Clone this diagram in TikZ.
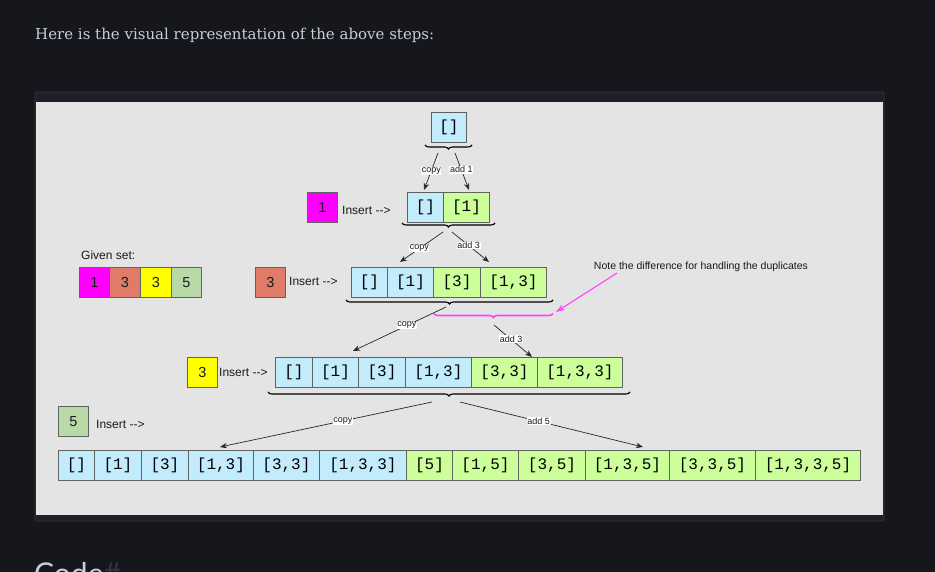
\documentclass[tikz,border=0pt]{standalone}
\usepackage{fontspec}
\setmainfont{Liberation Sans}
\newfontfamily\monofam{Liberation Mono}
\newfontfamily\serifam{DejaVu Serif}
\newfontfamily\headfam{Lato}
\usetikzlibrary{arrows.meta,decorations.pathreplacing}
\definecolor{pagebg}{HTML}{16161D}
\definecolor{framebg}{HTML}{1F1F27}
\definecolor{frameline}{HTML}{34343C}
\definecolor{panelbg}{HTML}{E4E4E4}
\definecolor{headtxt}{HTML}{C9CDD4}
\definecolor{cellblue}{HTML}{C2ECFC}
\definecolor{cellgreen}{HTML}{CCFF99}
\definecolor{boxline}{HTML}{5F6360}
\definecolor{mag}{HTML}{FF00FF}
\definecolor{magline}{HTML}{FF44FF}
\definecolor{salmon}{HTML}{E07B6A}
\definecolor{yel}{HTML}{FFFF00}
\definecolor{sage}{HTML}{B9DAA8}
\definecolor{inktxt}{HTML}{1A1A1A}
\newcommand{\instext}{Insert {-}{-}>}
\tikzset{
  cell/.style={draw=boxline, line width=0.9pt, minimum height=30, inner sep=0, anchor=west,
    text=black, font=\monofam\fontsize{16}{18}\selectfont},
  bcell/.style={cell, fill=cellblue},
  gcell/.style={cell, fill=cellgreen},
  numbox/.style={draw=boxline, line width=0.9pt, minimum width=30, minimum height=30, inner sep=0,
    anchor=north west, text=inktxt, font=\fontsize{14.5}{16}\selectfont},
  instxt/.style={anchor=west, inner sep=0, text=inktxt, font=\fontsize{12}{14}\selectfont},
  lbl/.style={fill=white, inner sep=0.6pt, text=inktxt, font=\fontsize{9}{10}\selectfont},
  arr/.style={-{Stealth[length=7pt,width=5.5pt]}, line width=0.7pt, draw=black!85},
  brc/.style={decorate, decoration={brace, amplitude=4pt}, line width=1.1pt},
}
\begin{document}
\begin{tikzpicture}[x=1pt,y=-1pt]
\useasboundingbox (0,0) rectangle (935,572);
\clip (0,0) rectangle (935,572);
\fill[pagebg] (0,0) rectangle (935,572);
\node[anchor=base west, inner sep=0, text=headtxt, font=\serifam\fontsize{15}{18}\selectfont] (head) at (35,40) {Here is the visual representation of the above steps:};
\filldraw[fill=framebg, draw=frameline, line width=0.8pt, rounded corners=1.5pt] (35,92) rectangle (884,521);
\fill[panelbg] (36,102) rectangle (883,515);
\node[anchor=base west, inner sep=0, font=\headfam\fontsize{30}{34}\selectfont] (codeh) at (34,584) {\textcolor{headtxt}{Code}\textcolor{frameline}{\#}};

% row 0
\node[bcell, minimum width=35] (r0a) at (431,127) {[]};
\coordinate (b0R) at (472,145); \coordinate (b0L) at (425,145);
\draw[brc] (b0R) -- (b0L);
\coordinate (s0c) at (438,153); \coordinate (e0c) at (424,190);
\coordinate (s0a) at (455,153); \coordinate (e0a) at (469,190);
\draw[arr] (s0c) -- node[lbl, pos=0.48] {copy} (e0c);
\draw[arr] (s0a) -- node[lbl, pos=0.45] {add 1} (e0a);

% row 1
\node[numbox, fill=mag] (n1) at (307,192) {1};
\node[instxt] (i1) at (342,210) {\instext};
\node[bcell, minimum width=36] (r1a) at (407,207) {[]};
\node[gcell, minimum width=46] (r1b) at (443,207) {[1]};
\coordinate (b1R) at (495,223); \coordinate (b1L) at (402,223);
\draw[brc] (b1R) -- (b1L);
\coordinate (s1c) at (443,232); \coordinate (e1c) at (400,262);
\coordinate (s1a) at (452,232); \coordinate (e1a) at (489,262);
\draw[arr] (s1c) -- node[lbl, pos=0.55] {copy} (e1c);
\draw[arr] (s1a) -- node[lbl, pos=0.45] {add 3} (e1a);

% given set
\node[instxt] (given) at (81,255) {Given set:};
\node[numbox, fill=mag] (g1) at (79,267) {1};
\node[numbox, fill=salmon, minimum width=31] (g2) at (109,267) {3};
\node[numbox, fill=yel, minimum width=31] (g3) at (140,267) {3};
\node[numbox, fill=sage] (g4) at (171,267) {5};

% row 2
\node[numbox, fill=salmon] (n2) at (255,267) {3};
\node[instxt] (i2) at (289,281) {\instext};
\node[bcell, minimum width=36] (r2a) at (351,282.5) {[]};
\node[bcell, minimum width=46] (r2b) at (387,282.5) {[1]};
\node[gcell, minimum width=47] (r2c) at (433,282.5) {[3]};
\node[gcell, minimum width=66] (r2d) at (480,282.5) {[1,3]};
\coordinate (b2R) at (553,300); \coordinate (b2L) at (346,300);
\draw[brc] (b2R) -- (b2L);
\coordinate (m2R) at (553,313.5); \coordinate (m2L) at (434,313.5);
\draw[brc, draw=magline, line width=1.6pt] (m2R) -- (m2L);
\node[anchor=center, inner sep=0, text=inktxt, font=\fontsize{10.5}{12}\selectfont] (note) at (701,266.5) {Note the difference for handling the duplicates};
\coordinate (ns) at (617,273); \coordinate (ne) at (556,312);
\draw[-{Stealth[length=9pt,width=6pt]}, draw=magline, line width=1.1pt] (ns) -- (ne);
\coordinate (s2c) at (446,307); \coordinate (e2c) at (353,351);
\coordinate (s2a) at (494,325); \coordinate (e2a) at (532,357);
\draw[arr] (s2c) -- node[lbl, pos=0.42] {copy} (e2c);
\draw[arr] (s2a) -- node[lbl, pos=0.45] {add 3} (e2a);

% row 3
\node[numbox, fill=yel] (n3) at (187,357) {3};
\node[instxt] (i3) at (219,372) {\instext};
\node[bcell, minimum width=37] (r3a) at (275,372.5) {[]};
\node[bcell, minimum width=46] (r3b) at (312,372.5) {[1]};
\node[bcell, minimum width=47] (r3c) at (358,372.5) {[3]};
\node[bcell, minimum width=66] (r3d) at (405,372.5) {[1,3]};
\node[gcell, minimum width=66] (r3e) at (471,372.5) {[3,3]};
\node[gcell, minimum width=85] (r3f) at (537,372.5) {[1,3,3]};
\coordinate (b3R) at (630,392); \coordinate (b3L) at (268,392);
\draw[brc] (b3R) -- (b3L);
\coordinate (s3c) at (432,402); \coordinate (e3c) at (220,447);
\coordinate (s3a) at (460,402); \coordinate (e3a) at (643,447);
\draw[arr] (s3c) -- node[lbl, pos=0.42] {copy} (e3c);
\draw[arr] (s3a) -- node[lbl, pos=0.43] {add 5} (e3a);

% row 4
\node[numbox, fill=sage] (n4) at (58,406) {5};
\node[instxt] (i4) at (96,424) {\instext};
\node[bcell, minimum width=36] (r4a) at (58,465) {[]};
\node[bcell, minimum width=47] (r4b) at (94,465) {[1]};
\node[bcell, minimum width=47] (r4c) at (141,465) {[3]};
\node[bcell, minimum width=65] (r4d) at (188,465) {[1,3]};
\node[bcell, minimum width=66] (r4e) at (253,465) {[3,3]};
\node[bcell, minimum width=87] (r4f) at (319,465) {[1,3,3]};
\node[gcell, minimum width=46] (r4g) at (406,465) {[5]};
\node[gcell, minimum width=66] (r4h) at (452,465) {[1,5]};
\node[gcell, minimum width=67] (r4i) at (518,465) {[3,5]};
\node[gcell, minimum width=84] (r4j) at (585,465) {[1,3,5]};
\node[gcell, minimum width=86] (r4k) at (669,465) {[3,3,5]};
\node[gcell, minimum width=105] (r4l) at (755,465) {[1,3,3,5]};
\end{tikzpicture}
\end{document}
